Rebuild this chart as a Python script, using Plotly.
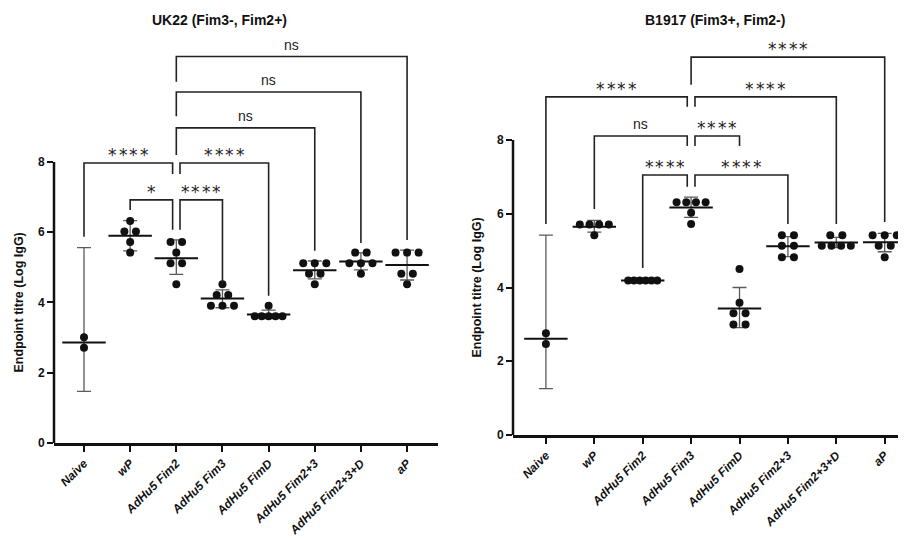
import plotly.graph_objects as go

categories = ["Naive", "wP", "AdHu5 Fim2", "AdHu5 Fim3", "AdHu5 FimD",
              "AdHu5 Fim2+3", "AdHu5 Fim2+3+D", "aP"]

# ---- UK22 (Fim3-, Fim2+) ----
uk22_values = [
    [3.01, 2.71],
    [6.32, 6.02, 6.02, 5.72, 5.42],
    [5.72, 5.72, 5.42, 5.12, 5.12, 4.52],
    [4.52, 4.21, 4.21, 3.91, 3.91, 3.91],
    [3.91, 3.61, 3.61, 3.61, 3.61, 3.61],
    [5.12, 5.12, 5.12, 4.82, 4.82, 4.52],
    [5.42, 5.42, 5.12, 5.12, 5.12, 4.82],
    [5.42, 5.42, 5.42, 4.82, 4.82, 4.52],
]
uk22_mean = [2.86, 5.90, 5.26, 4.11, 3.66, 4.92, 5.17, 5.07]
uk22_upper = [5.56, 6.33, 5.78, 4.36, 3.78, 5.18, 5.41, 5.49]
uk22_lower = [1.47, 5.47, 4.80, 3.85, 3.54, 4.67, 4.93, 4.64]

# ---- B1917 (Fim3+, Fim2-) ----
b1917_values = [
    [2.76, 2.47],
    [5.71, 5.71, 5.71, 5.71, 5.42],
    [4.19, 4.19, 4.19, 4.19, 4.19, 4.19],
    [6.31, 6.31, 6.31, 6.31, 6.03, 5.72],
    [4.50, 3.59, 3.30, 3.30, 3.00, 3.00],
    [5.42, 5.42, 5.13, 5.13, 4.82, 4.82],
    [5.42, 5.42, 5.13, 5.13, 5.13, 5.13],
    [5.42, 5.42, 5.42, 5.13, 5.13, 4.82],
]
b1917_mean = [2.61, 5.65, 4.19, 6.17, 3.43, 5.12, 5.22, 5.23]
b1917_upper = [5.42, 5.82, 4.19, 6.45, 4.00, 5.38, 5.36, 5.47]
b1917_lower = [1.26, 5.50, 4.19, 5.90, 2.91, 4.84, 5.08, 4.97]

# significance brackets: (group a, group b, level, leg end a, leg end b, label, offset a, offset b)
uk22_brackets = [
    (0, 2, 7.97, 5.87, 7.66, "****", 0, -0.08),
    (2, 4, 7.97, 7.66, 4.19, "****", 0.08, 0),
    (1, 2, 6.92, 6.63, 6.07, "*", 0, -0.08),
    (2, 3, 6.92, 6.07, 4.52, "****", 0.08, 0),
    (2, 5, 8.97, 8.20, 5.47, "ns", 0, 0),
    (2, 6, 9.99, 9.30, 5.69, "ns", 0, 0),
    (2, 7, 11.0, 10.28, 5.78, "ns", 0, 0),
]
b1917_brackets = [
    (2, 3, 7.05, 4.53, 6.73, "****", 0, -0.08),
    (3, 5, 7.05, 6.73, 5.72, "****", 0.08, 0),
    (1, 3, 8.11, 6.13, 7.84, "ns", 0, -0.08),
    (3, 4, 8.11, 7.84, 7.84, "****", 0.08, 0),
    (0, 3, 9.17, 5.72, 8.90, "****", 0, -0.08),
    (3, 6, 9.17, 8.90, 5.72, "****", 0.08, 0),
    (3, 7, 10.25, 9.50, 5.78, "****", 0, 0),
]

W, H = 906, 540
OFF = 8  # page body margin offset in the browser
FONT = "Liberation Sans, Arial, sans-serif"
fig = go.Figure()


def px_x(p):
    return (p - OFF) / W


def px_y(p):
    return 1 - (p - OFF) / H


def swarm(vals, center):
    xs, ys = [], []
    groups = {}
    for v in vals:
        groups.setdefault(v, 0)
        groups[v] += 1
    for v, n in groups.items():
        s = 0 if n == 1 else min(0.25, 0.6 / (n - 1))
        for k in range(n):
            xs.append(center + (k - (n - 1) / 2) * s)
            ys.append(v)
    return xs, ys


def add_panel(values, mean, upper, lower, brackets, xa, ya):
    idx = list(range(len(categories)))
    plus = [u - m for u, m in zip(upper, mean)]
    minus = [m - l for m, l in zip(mean, lower)]
    fig.add_trace(go.Scatter(
        x=idx, y=mean, mode="markers", xaxis=xa, yaxis=ya, showlegend=False,
        marker=dict(symbol="line-ew", size=31, line=dict(width=2, color="#111")),
        error_y=dict(type="data", symmetric=False, array=plus, arrayminus=minus,
                     width=7, thickness=1.3, color="#5a5a5a"),
        cliponaxis=False))
    px, py = [], []
    for i, vals in enumerate(values):
        x, y = swarm(vals, i)
        px += x
        py += y
    fig.add_trace(go.Scatter(
        x=px, y=py, mode="markers", xaxis=xa, yaxis=ya, showlegend=False,
        marker=dict(size=8, color="#111"), cliponaxis=False))
    for a, b, lev, la, lb, lab, oa, ob in brackets:
        x0, x1 = a + oa, b + ob
        fig.add_trace(go.Scatter(
            x=[x0, x0, x1, x1], y=[la, lev, lev, lb], mode="lines",
            xaxis=xa, yaxis=ya, showlegend=False, cliponaxis=False,
            line=dict(color="#222", width=1.6)))
        xm = (x0 + x1) / 2
        if lab == "ns":
            fig.add_annotation(
                x=xm, y=lev, xref=xa, yref=ya, text=lab, showarrow=False,
                xanchor="center", yanchor="bottom", yshift=2,
                font=dict(family=FONT, size=14, color="#222"))
        else:
            n = len(lab)
            for k in range(n):
                fig.add_annotation(
                    x=xm, y=lev, xref=xa, yref=ya, text="*", showarrow=False,
                    xanchor="center", yanchor="bottom", yshift=-4,
                    xshift=(k - (n - 1) / 2) * 10.5,
                    font=dict(family="DejaVu Sans", size=17, color="#222"))


add_panel(uk22_values, uk22_mean, uk22_upper, uk22_lower, uk22_brackets, "x", "y")
add_panel(b1917_values, b1917_mean, b1917_upper, b1917_lower, b1917_brackets, "x2", "y2")

xcommon = dict(
    tickvals=list(range(len(categories))), ticktext=categories, tickangle=-45,
    ticks="outside", ticklen=6, tickwidth=2, tickcolor="#111", automargin=False,
    showline=True, linewidth=2.5, linecolor="#111", showgrid=False, zeroline=False,
    tickfont=dict(family=FONT, size=12, color="#111", weight="bold", style="italic"),
)
ycommon = dict(
    range=[0, 11.5], tickvals=[0, 2, 4, 6, 8], ticks="outside", ticklen=6,
    tickwidth=2, tickcolor="#111", showline=False, showgrid=False, zeroline=False,
    automargin=False,
    tickfont=dict(family=FONT, size=12, color="#111", weight="bold"),
)

fig.update_layout(
    width=W, height=H, margin=dict(l=0, r=0, t=0, b=0, autoexpand=False),
    paper_bgcolor="white", plot_bgcolor="white",
    xaxis=dict(domain=[px_x(54), px_x(438)], range=[-0.65, 7.67], anchor="y", **xcommon),
    yaxis=dict(domain=[px_y(443), px_y(39)], anchor="x", **ycommon),
    xaxis2=dict(domain=[px_x(513), px_x(906)], range=[-0.68, 7.44], anchor="y2", **xcommon),
    yaxis2=dict(domain=[px_y(435), px_y(11)], anchor="x2", **ycommon),
    shapes=[
        dict(type="line", xref="paper", yref="y", x0=px_x(54), x1=px_x(54), y0=0, y1=8,
             line=dict(color="#111", width=2.5)),
        dict(type="line", xref="paper", yref="y2", x0=px_x(513), x1=px_x(513), y0=0, y1=8,
             line=dict(color="#111", width=2.5)),
    ],
)
for xp, ya in ((19, "y"), (477, "y2")):
    fig.add_annotation(x=px_x(xp), y=4, xref="paper", yref=ya, textangle=-90,
                       xanchor="center", yanchor="middle",
                       text="Endpoint titre (Log IgG)", showarrow=False,
                       font=dict(family=FONT, size=12.5, color="#111", weight="bold"))
fig.add_annotation(x=px_x(219), y=px_y(20), xref="paper", yref="paper",
                   xanchor="center", yanchor="middle",
                   text="UK22 (Fim3-, Fim2+)", showarrow=False,
                   font=dict(family=FONT, size=14, color="#111", weight="bold"))
fig.add_annotation(x=px_x(715), y=px_y(20), xref="paper", yref="paper",
                   xanchor="center", yanchor="middle",
                   text="B1917 (Fim3+, Fim2-)", showarrow=False,
                   font=dict(family=FONT, size=14, color="#111", weight="bold"))

fig.write_html("out.html")
